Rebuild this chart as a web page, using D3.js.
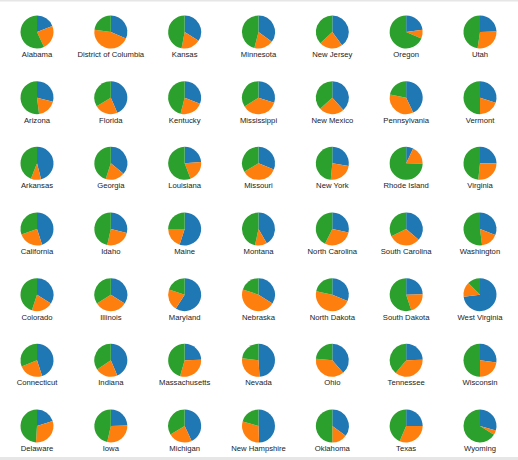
<!DOCTYPE html>
<html>
<head>
<meta charset="utf-8">
<script src="https://cdn.jsdelivr.net/npm/d3@7"></script>
<style>
  html, body { margin: 0; padding: 0; background: #fff; }
  svg { display: block; }
</style>
</head>
<body>
<svg id="chart" width="518" height="460"></svg>
<script>
// States in column-major order (7 columns x 7 rows)
const states = [
  "Alabama","Arizona","Arkansas","California","Colorado","Connecticut","Delaware",
  "District of Columbia","Florida","Georgia","Idaho","Illinois","Indiana","Iowa",
  "Kansas","Kentucky","Louisiana","Maine","Maryland","Massachusetts","Michigan",
  "Minnesota","Mississippi","Missouri","Montana","Nebraska","Nevada","New Hampshire",
  "New Jersey","New Mexico","New York","North Carolina","North Dakota","Ohio","Oklahoma",
  "Oregon","Pennsylvania","Rhode Island","South Carolina","South Dakota","Tennessee","Texas",
  "Utah","Vermont","Virginia","Washington","West Virginia","Wisconsin","Wyoming"
];
const seriesNames = ["A", "B", "C"];
const seriesA = [
  19, 29, 46, 45, 34, 45, 20,
  31.5, 43.6, 36, 29, 34, 43.6, 24.5,
  34, 31, 23.6, 55, 59, 24.5, 43,
  35, 30, 31, 41.7, 34, 49, 49.5,
  40, 38.3, 27.5, 28.3, 31.4, 38.6, 35,
  22.8, 43, 7, 36.3, 24.5, 24.5, 25,
  24.5, 30, 25, 31, 73, 27, 29.5
];
const seriesB = [
  24, 19, 10, 24.5, 21, 24, 31,
  45.7, 22.8, 19, 24.5, 32, 22, 29,
  19, 23, 20.6, 20, 21, 30, 23.5,
  19, 36, 35.5, 11.7, 46, 28, 30,
  23, 25, 24, 29, 47, 38, 15,
  8.6, 35, 18.5, 31.4, 20.5, 36.5, 31.5,
  27.8, 20, 26.7, 17, 14.5, 23, 4.5
];
const seriesC = [
  57, 52, 44, 30.5, 45, 31, 49,
  22.8, 33.6, 45, 46.5, 34, 34.4, 46.5,
  47, 46, 55.8, 25, 20, 45.5, 33.5,
  46, 34, 33.5, 46.6, 20, 23, 20.5,
  37, 36.7, 48.5, 42.7, 21.6, 23.4, 50,
  68.6, 22, 74.5, 32.3, 55, 39, 43.5,
  47.7, 50, 48.3, 52, 12.5, 50, 66
];

const colors = ["#1f77b4", "#ff7f0e", "#2ca02c"];
const nCols = 7, nRows = 7;

const svg = d3.select("#chart");

// page frame lines
svg.append("line").attr("x1", 0).attr("x2", 518).attr("y1", 0.5).attr("y2", 0.5)
  .attr("stroke", "#e6e6e6").attr("stroke-width", 2);
svg.append("line").attr("x1", 0).attr("x2", 518).attr("y1", 458.5).attr("y2", 458.5)
  .attr("stroke", "#e6e6e6").attr("stroke-width", 3);

const xPos = d3.scalePoint().domain(d3.range(nCols)).range([37, 480]);
const yPos = d3.scalePoint().domain(d3.range(nRows)).range([32, 426]);
const radius = 16.5;

const pie = d3.pie().sort(null).value(d => d.value);
const arc = d3.arc().innerRadius(0).outerRadius(radius);
const color = d3.scaleOrdinal().domain(seriesNames).range(colors);

const data = states.map((s, i) => ({
  state: s,
  col: Math.floor(i / nRows),
  row: i % nRows,
  values: [
    { key: "A", value: seriesA[i] },
    { key: "B", value: seriesB[i] },
    { key: "C", value: seriesC[i] }
  ]
}));

const cells = svg.selectAll("g.cell").data(data).enter().append("g")
  .attr("class", "cell")
  .attr("transform", d => `translate(${xPos(d.col)},${yPos(d.row)})`);

cells.selectAll("path").data(d => pie(d.values)).enter().append("path")
  .attr("d", arc)
  .attr("fill", d => color(d.data.key));

cells.append("text")
  .attr("x", 0)
  .attr("y", 25)
  .attr("text-anchor", "middle")
  .attr("font-family", "'Liberation Sans', Arial, sans-serif")
  .attr("font-size", "7.7px")
  .attr("fill", "#222")
  .text(d => d.state);
</script>
</body>
</html>
